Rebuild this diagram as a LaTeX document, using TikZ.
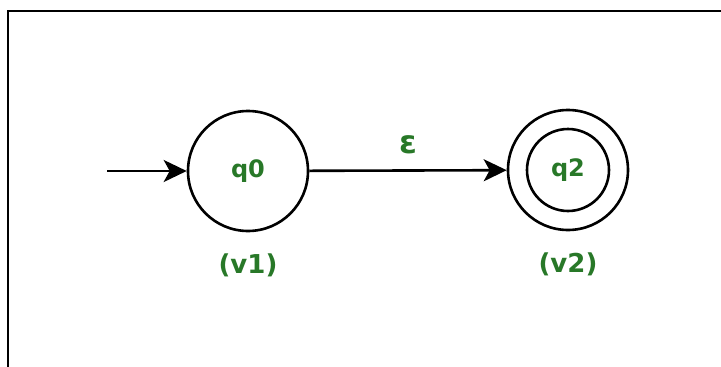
\documentclass[tikz,border=0pt]{standalone}
\usepackage{fontspec}
\setmainfont{DejaVu Sans}
\usepackage{tikz}
\usetikzlibrary{positioning, arrows.meta, shapes}
\usepackage{xcolor}
\definecolor{labgreen}{RGB}{40,120,40}

\begin{document}
\begin{tikzpicture}[x=1pt, y=-1pt,
  state/.style={draw, circle, line width=2.6pt, minimum size=120pt, inner sep=0pt},
  txt/.style={text=labgreen, font=\fontsize{24}{26}\selectfont\bfseries},
  vlabel/.style={text=labgreen, font=\fontsize{26}{28}\selectfont\bfseries},
  >={Stealth[length=23pt, width=22pt, inset=6pt]}]
\useasboundingbox (0,0) rectangle (721,367);
% Frame
\draw[line width=2pt] (8,367) -- (8,11) -- (721,11);
% States
\node[state, txt] (q0) at (248,171) {q0};
\node[state, txt] (q2) at (568,170) {q2};
\node[draw, circle, line width=2.6pt, minimum size=82pt] (q2in) at (q2) {};
% Names
\node[vlabel, below=18pt of q0] (v1) {(v1)};
\node[vlabel, below=18pt of q2] (v2) {(v2)};
% Transitions
\coordinate (start) at (107,171);
\draw[->, line width=2.6pt] (start) -- (q0);
\draw[->, line width=2.6pt] (q0) -- (q2) node[midway, above=12pt, txt, font=\fontsize{32}{34}\selectfont\bfseries] (eps) {ε};
\end{tikzpicture}
\end{document}
